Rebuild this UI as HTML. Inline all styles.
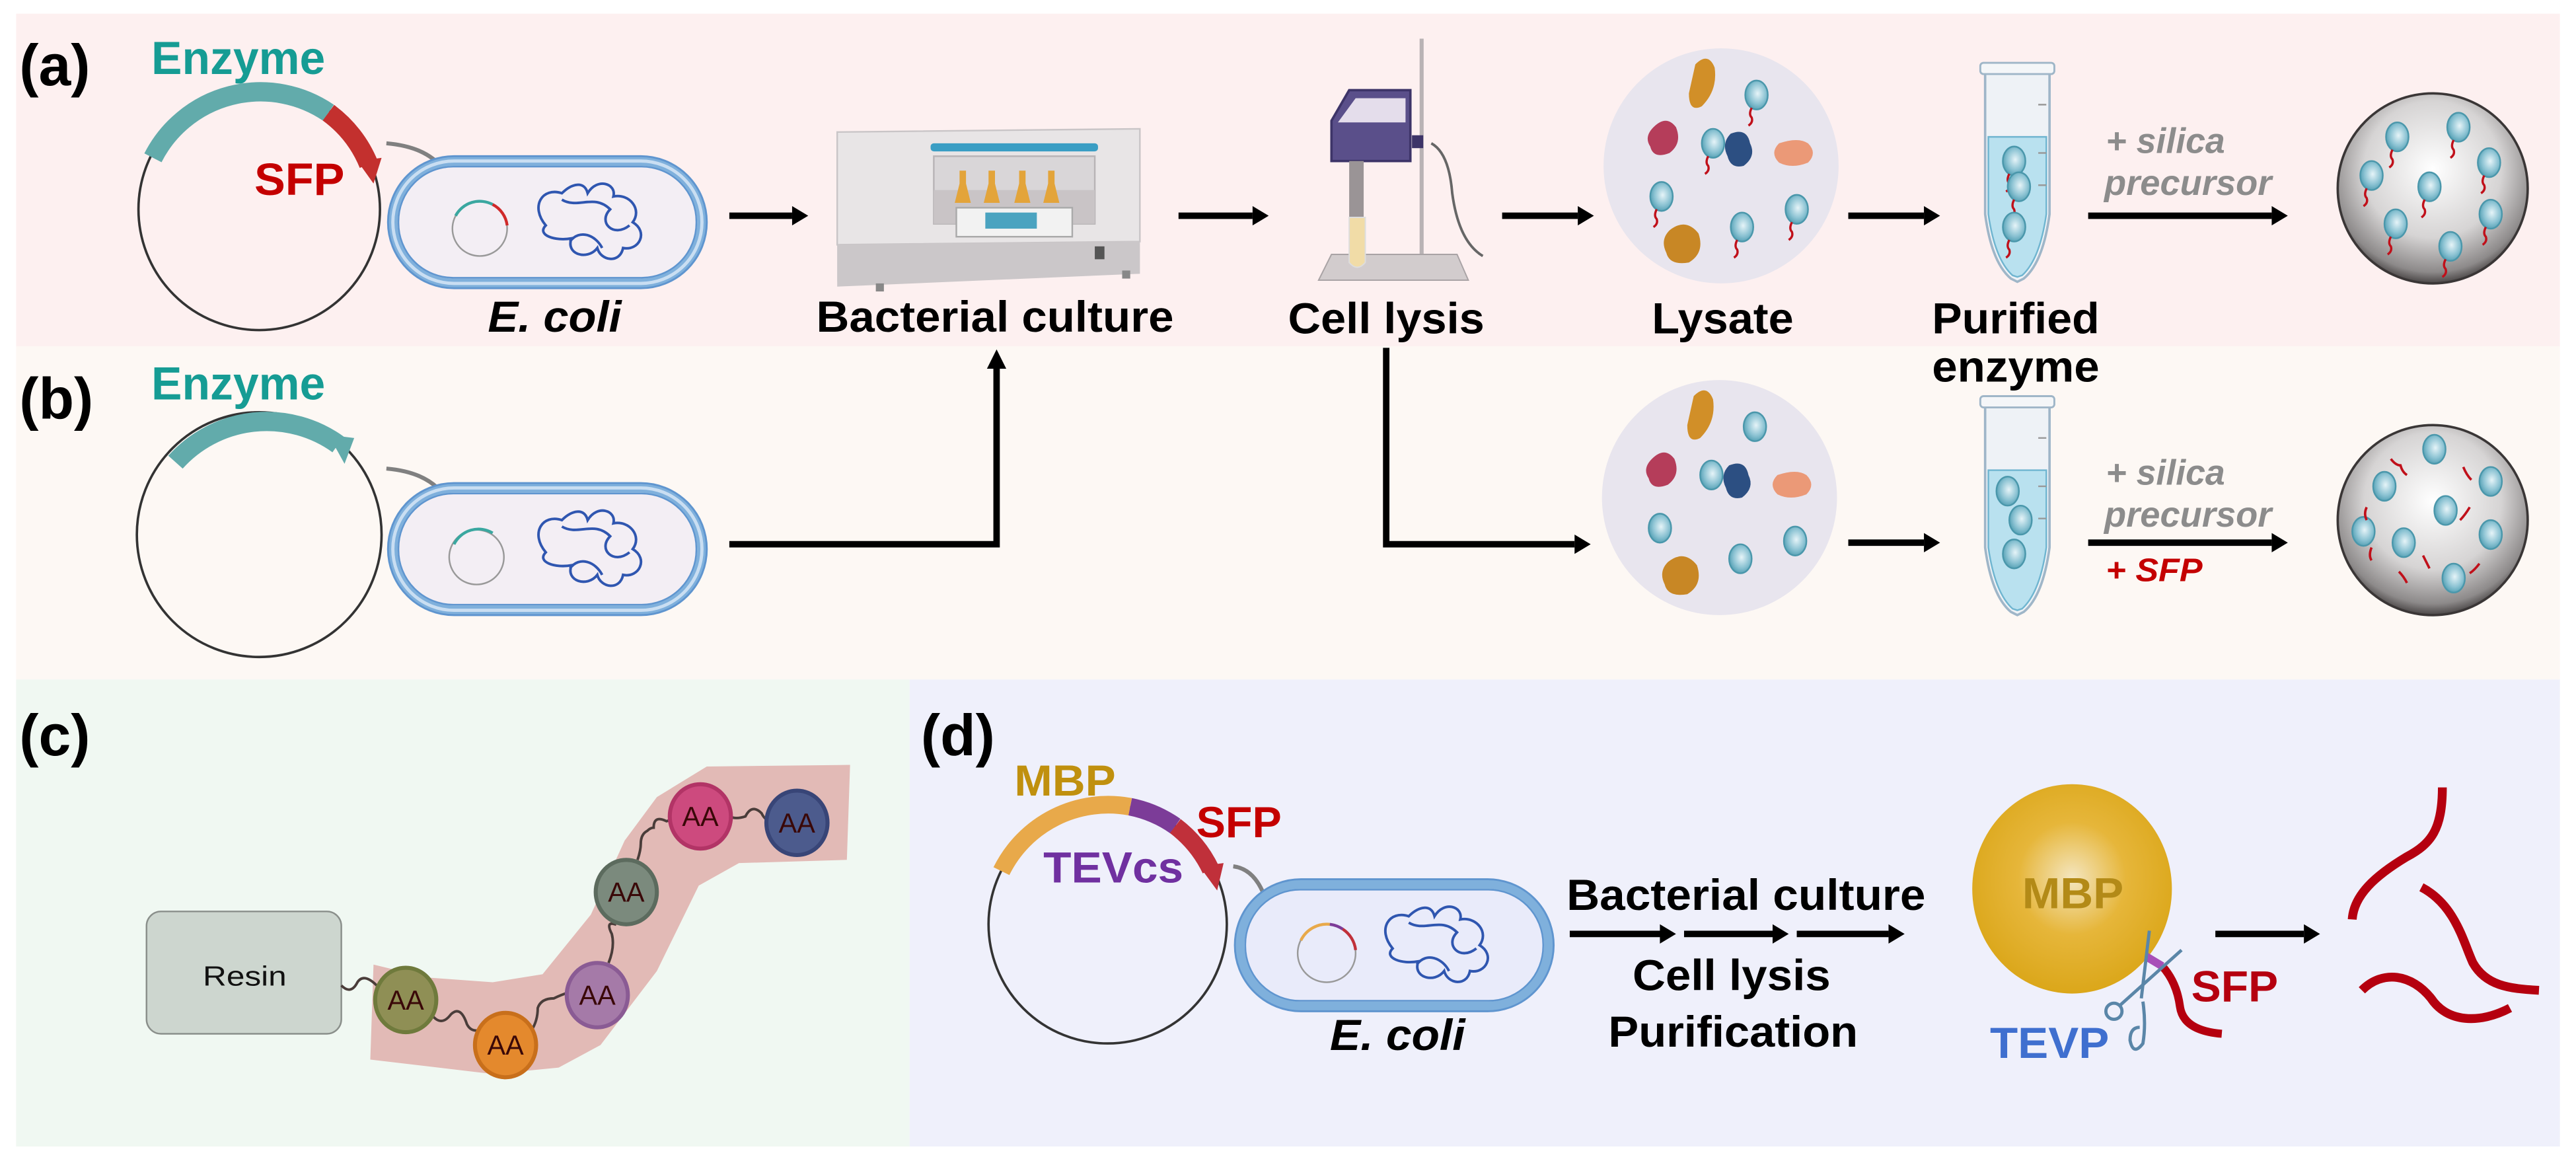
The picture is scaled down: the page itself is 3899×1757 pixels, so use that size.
<!DOCTYPE html>
<html><head><meta charset="utf-8"><style>
html,body{margin:0;padding:0;background:#fff;}
svg{display:block;}
text{font-family:"Liberation Sans",Arial,sans-serif;}
</style></head><body>
<svg width="3899" height="1757" viewBox="0 0 1600 721" preserveAspectRatio="none" xmlns="http://www.w3.org/2000/svg">
<defs>
<radialGradient id="bs" cx="0.55" cy="0.45" r="0.6"><stop offset="0" stop-color="#e6f4f8"/><stop offset="0.6" stop-color="#8cc3d3"/><stop offset="1" stop-color="#4d9bb0"/></radialGradient>
<radialGradient id="sil" cx="0.5" cy="0.4" r="0.6"><stop offset="0" stop-color="#ffffff"/><stop offset="0.6" stop-color="#d6d4d4"/><stop offset="0.9" stop-color="#8d8a8a"/><stop offset="1" stop-color="#4a4646"/></radialGradient>
<radialGradient id="mbp" cx="0.5" cy="0.45" r="0.6"><stop offset="0" stop-color="#f4e6c0"/><stop offset="0.45" stop-color="#e6b63a"/><stop offset="1" stop-color="#d9a414"/></radialGradient>
<g id="ball"><ellipse cx="0" cy="0" rx="7" ry="9" fill="url(#bs)" stroke="#4a97ab" stroke-width="1"/></g>
<g id="ballr"><ellipse cx="0" cy="0" rx="7" ry="9" fill="url(#bs)" stroke="#4a97ab" stroke-width="1"/><path d="M-3,8 q-2,4 0,6 q1,3 -2,5" stroke="#c0101a" stroke-width="1.4" fill="none"/></g>
<g id="ah"><path d="M0,0 L-10,-6 L-10,6 Z" fill="#000"/></g>
<g id="cell">
<rect x="0" y="0" width="192" height="76" rx="38" fill="#f3eef4" stroke="#7fb0dc" stroke-width="6"/>
<rect x="0" y="0" width="192" height="76" rx="38" fill="none" stroke="#c9def2" stroke-width="2"/>
<rect x="-3" y="-3" width="198" height="82" rx="41" fill="none" stroke="#5f95cf" stroke-width="1.2"/>
<rect x="3.5" y="3.5" width="185" height="69" rx="34" fill="none" stroke="#5f95cf" stroke-width="1"/>
<path d="M95,40 c-10,-12 -2,-24 10,-20 c6,-6 14,-8 16,0 c6,-10 18,-6 16,2 c10,-2 18,8 12,16 c10,6 4,18 -6,16 c-2,10 -14,8 -16,0 c-6,8 -20,4 -16,-6 c-10,2 -22,-2 -16,-8 z M105,24 c10,6 20,-4 30,6 c-8,8 2,18 12,10 M110,50 c6,-8 16,-4 20,4" fill="none" stroke="#2f56b0" stroke-width="1.6"/>
</g>
<g id="lys">
<circle cx="0" cy="0" r="73" fill="#e8e5ee"/>
<path d="M-16,-63 q8,-8 12,2 q2,14 -8,24 q-8,4 -8,-8 z" fill="#d18f28"/>
<path d="M-42,-24 q8,-8 14,0 q4,10 -4,16 q-10,4 -12,-4 q-4,-6 2,-12 z" fill="#b53d5a"/>
<path d="M36,-14 q12,-4 18,0 q6,6 0,12 q-10,4 -18,0 q-6,-6 0,-12 z" fill="#eb9977"/>
<path d="M6,-20 q10,-4 12,6 q4,8 -4,14 q-8,2 -10,-6 q-4,-8 2,-14 z" fill="#2c4f82"/>
<path d="M-32,40 q10,-8 18,2 q4,12 -6,18 q-12,2 -14,-6 q-4,-8 2,-14 z" fill="#c88725"/>
</g>
<g id="tube">
<path d="M-20,0 L20,0 L20,88 Q16,118 4,128 L0,130 L-4,128 Q-16,118 -20,88 Z" fill="#eef2f6" stroke="#9fb6c8" stroke-width="1.5"/>
<path d="M-18,40 L18,40 L18,88 Q14,116 3,126 L0,127 L-3,126 Q-14,116 -18,88 Z" fill="#b9e1ef" stroke="#6fb5d0" stroke-width="1"/>
<rect x="-23" y="-6" width="46" height="7" rx="2" fill="#f4f6f8" stroke="#9fb6c8" stroke-width="1.2"/>
<path d="M13,20 h5 M13,50 h5 M13,70 h5" stroke="#999" stroke-width="1"/>
</g>
<g id="sph"><circle cx="0" cy="0" r="59" fill="url(#sil)" stroke="#3a3636" stroke-width="1.5"/></g>
</defs>

<!-- panels -->
<rect x="10" y="8.5" width="1580" height="206.5" fill="#fdf0f0"/>
<rect x="10" y="215" width="1580" height="207" fill="#fdf8f4"/>
<rect x="10" y="422" width="555" height="290" fill="#f0f8f2"/>
<rect x="565" y="422" width="1025" height="290" fill="#eff0fb"/>

<!-- ===== (a) ===== -->
<text x="12" y="53" font-size="36" font-weight="bold" fill="#000">(a)</text>
<text x="94" y="46" font-size="29" font-weight="bold" fill="#169c94" textLength="108" lengthAdjust="spacingAndGlyphs">Enzyme</text>
<circle cx="161" cy="130" r="75" fill="none" stroke="#333" stroke-width="1.5"/>
<path d="M95,98 A75,75 0 0 1 204,70" fill="none" stroke="#62abab" stroke-width="12"/>
<path d="M204,70 A75,75 0 0 1 229,102" fill="none" stroke="#c3302e" stroke-width="12"/>
<path d="M222,100 L237,98 L232,114 Z" fill="#c3302e"/>
<text x="158" y="121" font-size="28" font-weight="bold" fill="#c40000" textLength="56" lengthAdjust="spacingAndGlyphs">SFP</text>
<path d="M240,89 Q275,92 281,118" fill="none" stroke="#808080" stroke-width="2.5"/>
<path d="M276,116 L286,116 L282,124 Z" fill="#808080"/>
<use href="#cell" x="244" y="100"/>
<circle cx="298" cy="142" r="17" fill="none" stroke="#999" stroke-width="1"/>
<path d="M283,134 A17,17 0 0 1 306,127" fill="none" stroke="#3aa7a0" stroke-width="1.8"/>
<path d="M306,127 A17,17 0 0 1 315,140" fill="none" stroke="#d02a2a" stroke-width="1.8"/>
<text x="303" y="206" font-size="27" font-weight="bold" font-style="italic" fill="#000" textLength="83" lengthAdjust="spacingAndGlyphs">E. coli</text>
<line x1="453" y1="134" x2="492" y2="134" stroke="#000" stroke-width="4"/><use href="#ah" x="502" y="134"/>
<!-- incubator -->
<path d="M520,82 L708,80 L708,170 L520,175 Z" fill="#dcd8da"/>
<path d="M520,82 L708,80 L708,150 L520,152 Z" fill="#e8e5e6" stroke="#c9c5c7" stroke-width="1"/>
<path d="M520,152 L708,150 L708,170 L520,178 Z" fill="#cbc7c9"/>
<rect x="578" y="89" width="104" height="5" rx="2" fill="#3a9ec4"/>
<rect x="580" y="97" width="100" height="42" fill="#d9d6d8" stroke="#b8b4b6"/>
<rect x="580" y="118" width="100" height="21" fill="#c9c4c6"/>
<path d="M596,106 l0,8 l-3,12 h10 l-3,-12 l0,-8z M614,106 l0,8 l-3,12 h10 l-3,-12 l0,-8z M633,106 l0,8 l-3,12 h10 l-3,-12 l0,-8z M651,106 l0,8 l-3,12 h10 l-3,-12 l0,-8z" fill="#e3a43a"/>
<rect x="594" y="129" width="72" height="18" fill="#f2f2f2" stroke="#aaa"/>
<rect x="612" y="132" width="32" height="10" fill="#4aa3c0"/>
<rect x="680" y="153" width="6" height="8" fill="#555"/>
<rect x="544" y="176" width="5" height="5" fill="#888"/><rect x="697" y="168" width="5" height="5" fill="#888"/>
<text x="507" y="206" font-size="27" font-weight="bold" fill="#000" textLength="222" lengthAdjust="spacingAndGlyphs">Bacterial culture</text>
<line x1="732" y1="134" x2="778" y2="134" stroke="#000" stroke-width="4"/><use href="#ah" x="788" y="134"/>
<!-- sonicator -->
<line x1="883" y1="24" x2="883" y2="171" stroke="#b9b3b5" stroke-width="2.5"/>
<path d="M827,158 L905,158 L912,174 L819,174 Z" fill="#d2cccd" stroke="#a9a3a5" stroke-width="0.8"/>
<path d="M838,56 L876,56 L876,100 L827,100 L827,75 Z" fill="#5a4f8a" stroke="#3d3468" stroke-width="1.5"/>
<path d="M842,61 L873,61 L873,76 L831,76 Z" fill="#e4ddeb"/>
<rect x="838" y="100" width="9" height="35" fill="#9a9496"/>
<path d="M838,135 h10 v28 q-5,6 -10,0 z" fill="#f1dca7" stroke="#ddd" stroke-width="0.8"/>
<rect x="877" y="84" width="7" height="8" fill="#3d3468"/>
<path d="M889,89 Q900,95 902,120 Q906,150 921,159" fill="none" stroke="#666" stroke-width="1.6"/>
<text x="800" y="207" font-size="27" font-weight="bold" fill="#000" textLength="122" lengthAdjust="spacingAndGlyphs">Cell lysis</text>
<line x1="933" y1="134" x2="980" y2="134" stroke="#000" stroke-width="4"/><use href="#ah" x="990" y="134"/>
<use href="#lys" x="1069" y="103"/>
<use href="#ballr" x="1091" y="59"/><use href="#ballr" x="1064" y="89"/><use href="#ballr" x="1032" y="122"/><use href="#ballr" x="1116" y="130"/><use href="#ballr" x="1082" y="141"/>
<text x="1026" y="207" font-size="27" font-weight="bold" fill="#000" textLength="88" lengthAdjust="spacingAndGlyphs">Lysate</text>
<line x1="1148" y1="134" x2="1195" y2="134" stroke="#000" stroke-width="4"/><use href="#ah" x="1205" y="134"/>
<use href="#tube" x="1253" y="45"/>
<use href="#ballr" x="1251" y="100"/><use href="#ballr" x="1254" y="116"/><use href="#ballr" x="1251" y="141"/>
<text x="1200" y="207" font-size="27" font-weight="bold" fill="#000" textLength="104" lengthAdjust="spacingAndGlyphs">Purified</text>
<text x="1200" y="237" font-size="27" font-weight="bold" fill="#000" textLength="104" lengthAdjust="spacingAndGlyphs">enzyme</text>
<text x="1308" y="95" font-size="22" font-weight="bold" font-style="italic" fill="#8c8c8c" textLength="74" lengthAdjust="spacingAndGlyphs">+ silica</text>
<text x="1307" y="121" font-size="22" font-weight="bold" font-style="italic" fill="#8c8c8c" textLength="104" lengthAdjust="spacingAndGlyphs">precursor</text>
<line x1="1297" y1="134" x2="1411" y2="134" stroke="#000" stroke-width="4"/><use href="#ah" x="1421" y="134"/>
<use href="#sph" x="1511" y="117"/>
<use href="#ballr" x="1489" y="85"/><use href="#ballr" x="1527" y="79"/><use href="#ballr" x="1546" y="101"/><use href="#ballr" x="1473" y="109"/><use href="#ballr" x="1509" y="116"/><use href="#ballr" x="1547" y="133"/><use href="#ballr" x="1488" y="139"/><use href="#ballr" x="1522" y="153"/>

<!-- ===== (b) ===== -->
<text x="12" y="260" font-size="36" font-weight="bold" fill="#000">(b)</text>
<text x="94" y="248" font-size="29" font-weight="bold" fill="#169c94" textLength="108" lengthAdjust="spacingAndGlyphs">Enzyme</text>
<circle cx="161" cy="332" r="76" fill="none" stroke="#333" stroke-width="1.5"/>
<path d="M109,287 A76,76 0 0 1 210,276" fill="none" stroke="#62abab" stroke-width="12"/>
<path d="M204,270 L220,272 L214,288 Z" fill="#62abab"/>
<path d="M240,291 Q275,294 281,320" fill="none" stroke="#808080" stroke-width="2.5"/>
<path d="M276,318 L286,318 L282,326 Z" fill="#808080"/>
<use href="#cell" x="244" y="303"/>
<circle cx="296" cy="346" r="17" fill="none" stroke="#999" stroke-width="1"/>
<path d="M282,338 A17,17 0 0 1 306,331" fill="none" stroke="#3aa7a0" stroke-width="1.8"/>
<polyline points="453,338 619,338 619,228" fill="none" stroke="#000" stroke-width="4"/>
<path d="M619,217 L613,229 L625,229 Z" fill="#000"/>
<polyline points="861,216 861,338 978,338" fill="none" stroke="#000" stroke-width="4"/><use href="#ah" x="988" y="338"/>
<use href="#lys" x="1068" y="309"/>
<use href="#ball" x="1090" y="265"/><use href="#ball" x="1063" y="295"/><use href="#ball" x="1031" y="328"/><use href="#ball" x="1115" y="336"/><use href="#ball" x="1081" y="347"/>
<line x1="1148" y1="337" x2="1195" y2="337" stroke="#000" stroke-width="4"/><use href="#ah" x="1205" y="337"/>
<use href="#tube" x="1253" y="252"/>
<use href="#ball" x="1247" y="305"/><use href="#ball" x="1255" y="323"/><use href="#ball" x="1251" y="344"/>
<text x="1308" y="301" font-size="22" font-weight="bold" font-style="italic" fill="#8c8c8c" textLength="74" lengthAdjust="spacingAndGlyphs">+ silica</text>
<text x="1307" y="327" font-size="22" font-weight="bold" font-style="italic" fill="#8c8c8c" textLength="104" lengthAdjust="spacingAndGlyphs">precursor</text>
<line x1="1297" y1="337" x2="1411" y2="337" stroke="#000" stroke-width="4"/><use href="#ah" x="1421" y="337"/>
<text x="1308" y="361" font-size="20" font-weight="bold" font-style="italic" fill="#c40000" textLength="60" lengthAdjust="spacingAndGlyphs">+ SFP</text>
<use href="#sph" x="1511" y="323"/>
<use href="#ball" x="1512" y="279"/><use href="#ball" x="1547" y="299"/><use href="#ball" x="1481" y="302"/><use href="#ball" x="1519" y="317"/><use href="#ball" x="1468" y="330"/><use href="#ball" x="1493" y="337"/><use href="#ball" x="1547" y="332"/><use href="#ball" x="1524" y="359"/>
<g stroke="#c0101a" stroke-width="1.5" fill="none">
<path d="M1485,285 q3,4 6,4 q1,4 4,6"/><path d="M1530,290 q2,5 5,8"/><path d="M1534,315 q-3,5 -6,8"/><path d="M1473,340 q-2,5 0,8"/><path d="M1505,345 q2,4 4,8"/><path d="M1540,350 q-3,4 -6,6"/><path d="M1490,355 q3,3 5,7"/><path d="M1470,315 q-2,4 0,8"/>
</g>

<!-- ===== (c) ===== -->
<text x="12" y="469" font-size="36" font-weight="bold" fill="#000">(c)</text>
<path d="M232,599 L265,607 L306,610 L337,605 L367,568 L388,522 L408,495 L439,476 L528,475 L526,534 L459,536 L434,550 L408,603 L373,649 L347,663 L306,667 L230,658 Z" fill="#e2bab6"/>
<rect x="91" y="566" width="121" height="76" rx="9" fill="#cdd6cf" stroke="#8a8f8b" stroke-width="1"/>
<text x="152" y="612" font-size="17" fill="#111" text-anchor="middle" textLength="52" lengthAdjust="spacingAndGlyphs">Resin</text>
<g stroke="#4a3d3a" stroke-width="1.6" fill="none">
<path d="M212,612 q6,6 10,-2 q4,-6 12,2"/>
<path d="M268,630 q6,8 12,0 q6,-6 10,6 q2,4 6,4"/>
<path d="M330,640 q4,-6 4,-14 q2,-6 10,-6 q4,-2 10,-4"/>
<path d="M378,598 q4,-10 2,-18 q-4,-8 2,-6 q2,-6 3,-12"/>
<path d="M396,534 q2,-6 2,-10 q0,-6 4,-8 q2,-2 4,-2 q0,-8 8,-4 q6,-2 10,-4"/>
<path d="M453,507 q4,2 10,0 q4,-8 10,-2 q2,4 4,4"/>
</g>
<g stroke-width="2.5">
<ellipse cx="252" cy="621" rx="19" ry="20" fill="#8f8f55" stroke="#6f7a3c"/>
<ellipse cx="314" cy="649" rx="19" ry="20" fill="#e4892d" stroke="#c86f1b"/>
<ellipse cx="371" cy="618" rx="19" ry="20" fill="#a57aa8" stroke="#8a5b94"/>
<ellipse cx="389" cy="554" rx="19" ry="20" fill="#7b8a7d" stroke="#5c6b5e"/>
<ellipse cx="435" cy="507" rx="19" ry="20" fill="#cd4a7e" stroke="#b23466"/>
<ellipse cx="495" cy="511" rx="19" ry="20" fill="#4c5b8d" stroke="#384577"/>
</g>
<g font-size="17" fill="#3a0808" text-anchor="middle">
<text x="252" y="627">AA</text><text x="314" y="655">AA</text><text x="371" y="624">AA</text><text x="389" y="560">AA</text><text x="435" y="513">AA</text><text x="495" y="517">AA</text>
</g>

<!-- ===== (d) ===== -->
<text x="572" y="469" font-size="36" font-weight="bold" fill="#000">(d)</text>
<text x="630" y="494" font-size="27" fill="#c0900e" font-weight="bold" textLength="63" lengthAdjust="spacingAndGlyphs">MBP</text>
<circle cx="688" cy="574" r="74" fill="none" stroke="#333" stroke-width="1.5"/>
<path d="M622,541 A74,74 0 0 1 702,501" fill="none" stroke="#e8a94a" stroke-width="11"/>
<path d="M702,501 A74,74 0 0 1 730,513" fill="none" stroke="#7c3c98" stroke-width="11"/>
<path d="M730,513 A74,74 0 0 1 752,540" fill="none" stroke="#c0303a" stroke-width="11"/>
<path d="M745,538 L760,536 L756,553 Z" fill="#c0303a"/>
<text x="743" y="520" font-size="27" font-weight="bold" fill="#c40000" textLength="53" lengthAdjust="spacingAndGlyphs">SFP</text>
<text x="648" y="548" font-size="27" font-weight="bold" fill="#7030a0" textLength="87" lengthAdjust="spacingAndGlyphs">TEVcs</text>
<path d="M766,538 Q782,540 788,565" fill="none" stroke="#808080" stroke-width="2.5"/>
<path d="M783,563 L793,563 L789,571 Z" fill="#808080"/>
<g transform="translate(770,549)">
<rect x="0" y="0" width="192" height="76" rx="38" fill="#e9ebfa" stroke="#7fb0dc" stroke-width="6"/>
<rect x="-3" y="-3" width="198" height="82" rx="41" fill="none" stroke="#5f95cf" stroke-width="1.2"/>
<rect x="3.5" y="3.5" width="185" height="69" rx="34" fill="none" stroke="#5f95cf" stroke-width="1"/>
<path d="M95,40 c-10,-12 -2,-24 10,-20 c6,-6 14,-8 16,0 c6,-10 18,-6 16,2 c10,-2 18,8 12,16 c10,6 4,18 -6,16 c-2,10 -14,8 -16,0 c-6,8 -20,4 -16,-6 c-10,2 -22,-2 -16,-8 z M105,24 c10,6 20,-4 30,6 c-8,8 2,18 12,10 M110,50 c6,-8 16,-4 20,4" fill="none" stroke="#2f56b0" stroke-width="1.6"/>
</g>
<circle cx="824" cy="592" r="18" fill="none" stroke="#999" stroke-width="1"/>
<path d="M808,584 A18,18 0 0 1 826,574" fill="none" stroke="#e8a94a" stroke-width="1.8"/>
<path d="M826,574 A18,18 0 0 1 834,577" fill="none" stroke="#7c3c98" stroke-width="1.8"/>
<path d="M834,577 A18,18 0 0 1 842,590" fill="none" stroke="#c0303a" stroke-width="1.8"/>
<text x="826" y="652" font-size="27" font-weight="bold" font-style="italic" fill="#000" textLength="84" lengthAdjust="spacingAndGlyphs">E. coli</text>
<text x="973" y="565" font-size="27" font-weight="bold" fill="#000" textLength="223" lengthAdjust="spacingAndGlyphs">Bacterial culture</text>
<line x1="975" y1="580" x2="1032" y2="580" stroke="#000" stroke-width="4"/><use href="#ah" x="1041" y="580"/>
<line x1="1046" y1="580" x2="1102" y2="580" stroke="#000" stroke-width="4"/><use href="#ah" x="1111" y="580"/>
<line x1="1116" y1="580" x2="1173" y2="580" stroke="#000" stroke-width="4"/><use href="#ah" x="1183" y="580"/>
<text x="1014" y="615" font-size="27" font-weight="bold" fill="#000" textLength="123" lengthAdjust="spacingAndGlyphs">Cell lysis</text>
<text x="999" y="650" font-size="27" font-weight="bold" fill="#000" textLength="155" lengthAdjust="spacingAndGlyphs">Purification</text>
<ellipse cx="1287" cy="552" rx="62" ry="65" fill="url(#mbp)"/>
<text x="1256" y="564" font-size="27" font-weight="bold" fill="#b38a17" textLength="63" lengthAdjust="spacingAndGlyphs">MBP</text>
<path d="M1333,594 L1343,600" stroke="#a84fb8" stroke-width="5"/>
<path d="M1343,600 Q1352,610 1354,625 Q1356,640 1380,642" fill="none" stroke="#b5000f" stroke-width="5"/>
<g stroke="#5a86a8" stroke-width="2" fill="none">
<line x1="1335" y1="578" x2="1330" y2="620"/><line x1="1355" y1="590" x2="1316" y2="625"/>
<circle cx="1313" cy="628" r="5"/><path d="M1331,622 q2,14 0,26 q-6,8 -8,-2 q0,-8 6,-8"/>
</g>
<text x="1361" y="622" font-size="27" font-weight="bold" fill="#b5000f" textLength="54" lengthAdjust="spacingAndGlyphs">SFP</text>
<text x="1236" y="657" font-size="27" font-weight="bold" fill="#3f6fcf" textLength="74" lengthAdjust="spacingAndGlyphs">TEVP</text>
<line x1="1376" y1="580" x2="1431" y2="580" stroke="#000" stroke-width="4"/><use href="#ah" x="1441" y="580"/>
<g stroke="#b5000f" stroke-width="5.5" fill="none">
<path d="M1517,489 C1517,515 1510,524 1495,532 C1475,544 1462,556 1461,571"/>
<path d="M1504,551 C1525,562 1530,585 1536,598 C1544,612 1558,614 1577,615"/>
<path d="M1467,615 C1480,602 1498,605 1510,620 C1520,635 1540,636 1559,626"/>
</g>
</svg>
</body></html>
